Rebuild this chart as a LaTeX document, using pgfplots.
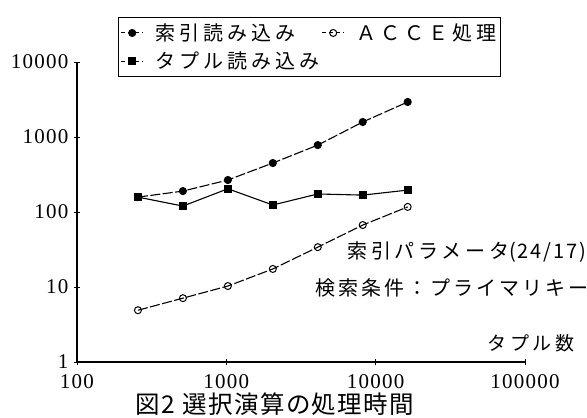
\documentclass[border=0pt]{standalone}
\usepackage{pgfplots}
\pgfplotsset{compat=1.18}
\usepackage{fontspec}
\setmainfont{Liberation Serif}
\newfontfamily\jp{Noto Sans CJK JP}[LetterSpace=20]
\newfontfamily\jpcond{Noto Sans CJK JP}[LetterSpace=15]
\newfontfamily\jpnote{Noto Sans CJK JP}[LetterSpace=19]
\newfontfamily\jpnum{Noto Sans CJK JP}[LetterSpace=9]
\newfontfamily\jptitle{Noto Sans CJK JP}[LetterSpace=6]

\begin{document}
\begin{tikzpicture}[x=1pt,y=1pt]
\useasboundingbox (-77,-56) rectangle (510,362);
\begin{axis}[
  at={(0,0)}, anchor=south west,
  width=448pt, height=300pt, scale only axis,
  xmode=log, ymode=log,
  xmin=100, xmax=100000, ymin=1, ymax=10000,
  axis lines*=left,
  axis line style={line width=1.1pt,-},
  xtick={100,1000,10000,100000},
  xticklabels={100,1000,10000,100000},
  ytick={1,10,100,1000,10000},
  yticklabels={1,10,100,1000,10000},
  xminorticks=false, yminorticks=false,
  tick align=center, major tick length=6pt,
  tick style={line width=1pt,black},
  ticklabel style={font=\addfontfeature{LetterSpace=6}\fontsize{21}{21}\selectfont},
  xticklabel style={yshift=-6pt},
  yticklabel style={xshift=-2pt},
  legend columns=2,
  legend cell align=left,
  legend style={
    at={(0.092,1.149)}, anchor=north west,
    draw=black, line width=1pt,
    font=\jp\fontsize{20}{24}\selectfont,
    inner xsep=2pt, inner ysep=4pt,
    row sep=6pt,
    /tikz/every odd column/.append style={column sep=10pt},
    /tikz/every even column/.append style={column sep=0pt},
  },
  legend image code/.code={%
    \draw[mark repeat=2,mark phase=2,line width=1pt,dash pattern=on 4pt off 3pt]
      plot coordinates {(0pt,0pt) (11pt,0pt) (22pt,0pt)};},
]
% index read
\addplot[black, line width=1.1pt, dash pattern=on 10pt off 2.5pt,
  mark=*, mark size=3.5pt, mark options={solid}]
  coordinates {(256,158) (512,190) (1024,267) (2048,450) (4096,780) (8192,1585) (16384,2930)};
\addlegendentry{索引読み込み}
% ACCE processing
\addplot[black, line width=1.1pt, dash pattern=on 10pt off 2.5pt,
  mark=o, mark size=3.5pt, mark options={solid, fill=white, line width=1pt}]
  coordinates {(256,4.9) (512,7.1) (1024,10.3) (2048,17.4) (4096,34) (8192,67) (16384,117)};
\addlegendentry{ＡＣＣＥ処理}
% tuple read
\addplot[black, line width=1.1pt,
  mark=square*, mark size=3.3pt, mark options={solid}]
  coordinates {(256,158) (512,120) (1024,204) (2048,124) (4096,174) (8192,168) (16384,196)};
\addlegendentry{タプル読み込み}
\end{axis}
\node[anchor=west, font=\jpnote\fontsize{20}{24}\selectfont, inner sep=0pt] at (270,110) {索引パラメータ{\jpnum(24/17)}};
\node[anchor=west, font=\jpcond\fontsize{20}{24}\selectfont, inner sep=0pt] at (238,74) {検索条件：プライマリキー};
\node[anchor=west, font=\jp\fontsize{19}{22}\selectfont, inner sep=0pt] at (410,19) {タプル数};
\node[font=\jptitle\fontsize{24.5}{26}\selectfont, inner sep=0pt] at (198,-42) {図2 選択演算の処理時間};
\end{tikzpicture}
\end{document}
